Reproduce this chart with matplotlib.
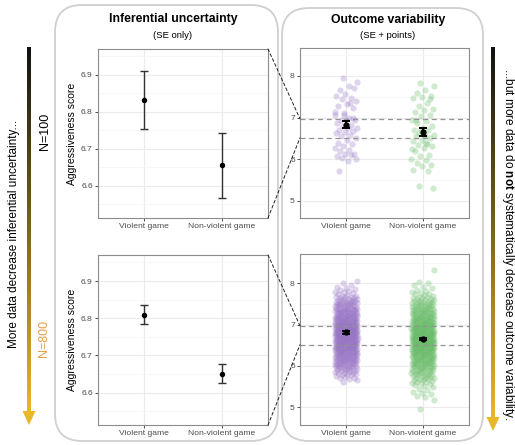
import numpy as np
import matplotlib
matplotlib.use("Agg")
import matplotlib.pyplot as plt
from matplotlib.patches import FancyBboxPatch, ConnectionPatch, Polygon
from matplotlib.colors import LinearSegmentedColormap

plt.rcParams['font.family'] = ['Liberation Sans', 'DejaVu Sans']
plt.rcParams['mathtext.fontset'] = 'custom'
plt.rcParams['mathtext.rm'] = 'Liberation Sans'
plt.rcParams['mathtext.bf'] = 'Liberation Sans:bold'

# --- data ---
GROUPS = ['Violent game', 'Non-violent game']
MEAN_N100 = [6.833, 6.656]
SE_N100 = [0.078, 0.088]
MEAN_N800 = [6.810, 6.651]
SE_N800 = [0.025, 0.026]
ZOOM_RANGE = [6.513, 6.97]      # y range of the SE-only panels
LEFT_TICKS = [6.6, 6.7, 6.8, 6.9]
RIGHT_TICKS = [5, 6, 7, 8]

VIOLENT_N100 = [7.94, 7.86, 7.77, 7.66, 7.72, 7.56, 7.52, 7.48, 7.45, 7.41,
                7.32, 7.28, 7.24, 7.12, 7.07, 6.99, 6.95, 6.94, 6.95, 6.87,
                6.83, 6.81, 6.75, 6.75, 6.71, 6.67, 6.65, 6.63, 6.59, 6.57,
                6.51, 6.47, 6.39, 6.37, 6.31, 6.27, 6.23, 6.21, 6.13, 6.13,
                6.07, 6.11, 6.03, 6.00, 5.95, 5.71, 6.99, 7.07, 7.13, 7.36]
NONVIOLENT_N100 = [7.82, 7.76, 7.66, 7.58, 7.52, 7.50, 7.46, 7.36, 7.28, 7.20,
                   7.18, 7.13, 7.07, 7.03, 6.95, 6.91, 6.86, 6.81, 6.75, 6.71,
                   6.70, 6.63, 6.59, 6.57, 6.55, 6.51, 6.47, 6.43, 6.37, 6.35,
                   6.31, 6.27, 6.21, 6.11, 6.07, 6.00, 5.99, 5.92, 5.87, 5.83,
                   5.75, 5.73, 5.35, 5.30, 6.59, 6.95, 7.44, 6.71, 6.25, 6.39]

# N=800 groups, in hundredths
VIOLENT_N800 = [
    562, 565, 568,
    570, 572, 574, 576, 578, 579,
    580, 581, 582, 583, 584, 585, 586, 587, 588, 589,
    590, 591, 592, 593, 593, 594, 595, 596, 597, 597, 598, 599,
    600, 601, 601, 602, 603, 603, 604, 604, 605, 605, 606, 607, 607, 608, 609, 609,
    610, 610, 611, 611, 612, 612, 613, 614, 614, 615, 615, 616, 616, 617, 618, 618, 619, 619,
    620, 620, 621, 621, 622, 622, 623, 623, 624, 624, 625, 625, 626, 626, 627, 627, 628, 628, 629, 629,
    630, 630, 631, 631, 632, 632, 632, 633, 633, 634, 634, 635, 635, 636, 636, 637, 637, 637, 638, 638, 639, 639,
    640, 640, 641, 641, 641, 642, 642, 643, 643, 643, 644, 644, 645, 645, 645, 646, 646, 647, 647, 647, 648, 648, 649, 649,
    650, 650, 650, 651, 651, 652, 652, 652, 653, 653, 654, 654, 654, 655, 655, 656, 656, 656, 657, 657, 658, 658, 658, 659, 659, 659,
    660, 660, 661, 661, 661, 662, 662, 662, 663, 663, 664, 664, 664, 665, 665, 665, 666, 666, 667, 667, 667, 668, 668, 668, 669, 669, 669,
    670, 670, 670, 671, 671, 672, 672, 672, 673, 673, 673, 674, 674, 675, 675, 675, 676, 676, 676, 677, 677, 678, 678, 678, 679, 679, 679,
    680, 680, 680, 681, 681, 681, 682, 682, 683, 683, 683, 684, 684, 684, 685, 685, 686, 686, 686, 687, 687, 687, 688, 688, 689, 689, 689,
    690, 690, 690, 691, 691, 691, 692, 692, 693, 693, 693, 694, 694, 695, 695, 695, 696, 696, 697, 697, 697, 698, 698, 698, 699, 699,
    700, 700, 700, 701, 701, 702, 702, 702, 703, 703, 704, 704, 705, 705, 705, 706, 706, 707, 707, 708, 708, 708, 709, 709,
    710, 710, 711, 711, 712, 712, 713, 713, 713, 714, 714, 715, 715, 716, 716, 716, 717, 717, 718, 718, 719, 719,
    720, 720, 721, 721, 722, 722, 723, 723, 724, 724, 725, 725, 726, 726, 727, 727, 728, 728, 729, 729,
    730, 730, 731, 731, 732, 733, 733, 734, 734, 735, 735, 736, 737, 737, 738, 738, 739, 739,
    740, 741, 741, 742, 743, 743, 744, 745, 745, 746, 747, 747, 748, 749, 749,
    750, 751, 752, 752, 753, 754, 755, 755, 756, 757, 758, 758, 759,
    760, 761, 762, 763, 764, 765, 766, 767, 768, 769,
    770, 772, 774, 776, 778, 779,
    781, 784, 787, 789,
    792, 797,
    801, 805,
]
NONVIOLENT_N800 = [
    495,
    518,
    524, 527,
    531, 534, 538,
    541, 545, 548,
    551, 553, 556, 558, 559,
    560, 562, 563, 565, 566, 568, 569,
    570, 571, 572, 573, 574, 575, 576, 577, 578, 579,
    580, 581, 582, 583, 583, 584, 585, 586, 587, 587, 588, 589,
    590, 591, 591, 592, 593, 594, 594, 595, 596, 597, 597, 598, 599, 599,
    600, 601, 601, 602, 603, 603, 604, 605, 605, 606, 607, 607, 608, 608, 609, 609,
    610, 610, 611, 611, 612, 612, 613, 613, 614, 615, 615, 616, 616, 617, 617, 618, 619, 619,
    620, 620, 621, 621, 622, 622, 623, 623, 624, 624, 625, 625, 626, 626, 627, 627, 628, 628, 629, 629,
    630, 630, 631, 631, 632, 632, 632, 633, 633, 634, 634, 635, 635, 636, 636, 637, 637, 637, 638, 638, 639, 639,
    640, 640, 641, 641, 641, 642, 642, 643, 643, 643, 644, 644, 645, 645, 645, 646, 646, 647, 647, 647, 648, 648, 649, 649,
    650, 650, 650, 651, 651, 652, 652, 652, 653, 653, 654, 654, 654, 655, 655, 656, 656, 656, 657, 657, 658, 658, 658, 659, 659, 659,
    660, 660, 660, 661, 661, 662, 662, 662, 663, 663, 664, 664, 664, 665, 665, 666, 666, 666, 667, 667, 668, 668, 668, 669, 669, 669,
    670, 670, 670, 671, 671, 672, 672, 672, 673, 673, 674, 674, 674, 675, 675, 676, 676, 676, 677, 677, 678, 678, 678, 679, 679, 679,
    680, 680, 681, 681, 681, 682, 682, 683, 683, 683, 684, 684, 685, 685, 685, 686, 686, 687, 687, 687, 688, 688, 689, 689,
    690, 690, 691, 691, 692, 692, 692, 693, 693, 694, 694, 695, 695, 695, 696, 696, 697, 697, 697, 698, 698, 699, 699,
    700, 700, 701, 701, 702, 702, 703, 703, 704, 704, 705, 705, 706, 706, 707, 707, 708, 708, 709, 709, 709,
    710, 710, 711, 711, 712, 713, 713, 714, 714, 715, 715, 716, 716, 717, 717, 718, 718, 719, 719,
    720, 720, 721, 722, 722, 723, 724, 724, 725, 725, 726, 727, 727, 728, 728, 729, 729,
    730, 731, 731, 732, 733, 733, 734, 735, 735, 736, 737, 737, 738, 739, 739,
    740, 741, 742, 742, 743, 744, 745, 745, 746, 747, 748, 748, 749,
    750, 751, 752, 753, 754, 755, 756, 757, 758, 758, 759,
    760, 761, 763, 764, 765, 767, 768, 769,
    771, 773, 775, 777, 779,
    781, 784, 788,
    792, 796,
    800, 803,
    832,
]

PURPLE = '#9672c4'
GREEN = '#66bb66'
GOLD = '#E8B82A'
W, H = 515, 445


def px_rect(x0, y0, x1, y1):
    return [x0 / W, 1 - y1 / H, (x1 - x0) / W, (y1 - y0) / H]


def jitter(n, width=0.15):
    k = np.arange(n)
    return ((k * 0.6180339887 + 0.37) % 1.0 - 0.5) * 2 * width


def style_axes(ax, ylim, ticks, fmt, ylabel=False):
    ax.set_xlim(0.4, 2.6)
    ax.set_ylim(*ylim)
    ax.set_xticks([1, 2])
    ax.set_xticklabels(GROUPS)
    ax.set_yticks(ticks)
    ax.set_yticklabels([fmt.format(t) for t in ticks])
    step = ticks[1] - ticks[0]
    minor = np.arange(ticks[0] - step / 2, ylim[1], step)
    ax.set_yticks(minor[minor > ylim[0]], minor=True)
    ax.grid(which='major', color='#EBEBEB', lw=0.8)
    ax.grid(which='minor', axis='y', color='#F4F4F4', lw=0.5)
    ax.set_axisbelow(True)
    for s in ax.spines.values():
        s.set_color('#8c8c8c')
        s.set_linewidth(0.8)
    ax.tick_params(which='major', length=2.2, width=0.6, color='#333333',
                   labelsize=6.1, labelcolor='#4d4d4d', pad=1.5)
    ax.tick_params(which='minor', length=0)
    if ylabel:
        ax.set_ylabel('Aggressiveness score', fontsize=7.5, labelpad=3)


def gradient_arrow(ax, x, y0, y1, head=14, half=1.7):
    cmap = LinearSegmentedColormap.from_list('blk_gold', ['#111111', GOLD])
    grad = np.linspace(0, 1, 256).reshape(-1, 1)
    ax.imshow(grad, cmap=cmap, extent=(x - half, x + half, y1 - head + 0.5, y0),
              origin='upper', aspect='auto', interpolation='bilinear', zorder=2)
    ax.add_patch(Polygon([(x - 6.5, y1 - head), (x + 6.5, y1 - head), (x, y1)],
                         closed=True, color=GOLD, lw=0, zorder=3))


fig = plt.figure(figsize=(W / 100, H / 100), dpi=100)

# background layer in pixel units
bg = fig.add_axes([0, 0, 1, 1])
for (x0, y0, w, h) in [(55, 5, 223, 436), (282, 8, 201, 433)]:
    bg.add_patch(FancyBboxPatch((x0, y0), w, h, boxstyle='round,pad=0,rounding_size=27',
                                fc='white', ec='#cfcfcf', lw=1.3))

gradient_arrow(bg, 29, 48, 425)
gradient_arrow(bg, 493, 48, 431)
bg.set_xlim(0, W)
bg.set_ylim(H, 0)
bg.axis('off')

bg.text(14, 234, 'More data decrease inferential uncertainty...', rotation=90,
        ha='center', va='center', fontsize=8.5)
bg.text(45, 131, 'N=100', rotation=90, ha='center', va='center', fontsize=9)
bg.text(44, 338, 'N=800', rotation=90, ha='center', va='center', fontsize=9, color='#E8A045')
bg.text(508, 244, r'...but more data do $\mathbf{not}$ systematically decrease outcome variability.',
        rotation=-90, ha='center', va='center', fontsize=8.5)

bg.text(173, 19, 'Inferential uncertainty', fontweight='bold', fontsize=8.8, ha='center', va='center')
bg.text(173, 35, '(SE only)', fontsize=6.8, ha='center', va='center')
bg.text(388, 20, 'Outcome variability', fontweight='bold', fontsize=8.8, ha='center', va='center')
bg.text(388, 35, '(SE + points)', fontsize=6.8, ha='center', va='center')

rows = [
    (49, 218, MEAN_N100, SE_N100, VIOLENT_N100, NONVIOLENT_N100, (4.59, 8.67)),
    (255, 425, MEAN_N800, SE_N800, np.array(VIOLENT_N800) / 100,
     np.array(NONVIOLENT_N800) / 100, (4.57, 8.71)),
]

for top, bottom, means, ses, viol, nonviol, rlim in rows:
    axl = fig.add_axes(px_rect(98, top, 268, bottom))
    style_axes(axl, ZOOM_RANGE, LEFT_TICKS, '{:.1f}', ylabel=True)
    axl.errorbar([1, 2], means, yerr=ses, fmt='o', color='black', ecolor='#333333',
                 elinewidth=1.0, capsize=3.2, capthick=1.0, ms=2.9, zorder=4)

    axr = fig.add_axes(px_rect(300, top - 1, 469, bottom))
    style_axes(axr, rlim, RIGHT_TICKS, '{:d}')
    for i, (vals, col) in enumerate([(viol, PURPLE), (nonviol, GREEN)]):
        vals = np.asarray(vals)
        axr.scatter(i + 1 + jitter(len(vals)), vals, s=20, color=col, alpha=0.3,
                    lw=0, zorder=2)
    for lim in ZOOM_RANGE:
        axr.axhline(lim, ls=(0, (4, 3)), color='#939393', lw=0.9, zorder=3)
    axr.errorbar([1, 2], means, yerr=ses, fmt='o', color='black', ecolor='black',
                 elinewidth=1.4, capsize=3.2, capthick=1.4, ms=3.5, zorder=4)

    for ya, yb in [(1, ZOOM_RANGE[1]), (0, ZOOM_RANGE[0])]:
        con = ConnectionPatch(xyA=(1, ya), coordsA=axl.transAxes,
                              xyB=(0.4, yb), coordsB=axr.transData,
                              ls=(0, (3, 2.5)), color='#222222', lw=0.7)
        fig.add_artist(con)

fig.savefig('out.png', dpi=100)
